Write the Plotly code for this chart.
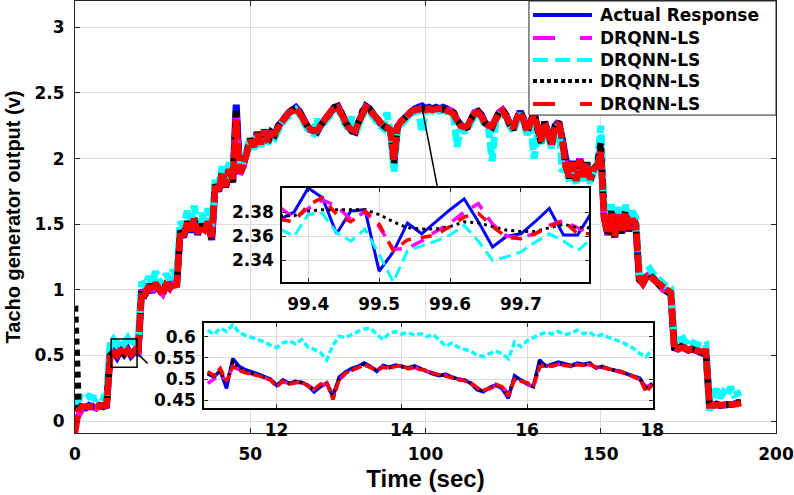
import plotly.graph_objects as go

# ---------------- main plot data (time in s) ----------------
t_main = list(range(0, 191))
actual = [
0.10,0.10,0.11,0.10,0.12,0.11,0.10,0.12,0.11,0.12,
0.50,0.53,0.49,0.54,0.51,0.55,0.50,0.53,0.52,
1.00,0.96,1.04,0.98,1.06,1.00,0.97,1.05,1.01,1.07,1.03,
1.45,1.40,1.52,1.44,1.55,1.42,1.50,1.45,1.53,1.38,
1.80,1.75,1.90,1.78,1.93,1.82,2.41,1.88,1.95,2.05,
2.15,2.08,2.20,2.10,2.22,2.12,2.20,2.18,
2.25,2.28,2.32,2.35,2.37,2.39,2.36,2.30,2.26,2.22,2.21,2.20,2.25,
2.29,2.33,2.37,2.39,2.40,2.35,2.28,2.24,2.21,2.20,
2.28,2.36,2.40,2.38,2.34,2.31,2.27,2.25,2.23,2.22,
1.98,2.24,2.28,2.31,2.34,2.36,2.38,2.39,2.40,2.38,
2.39,2.38,2.39,2.38,2.39,2.38,2.37,2.35,2.29,2.25,
2.23,2.24,2.30,2.35,2.36,2.33,2.27,2.25,2.24,2.30,
2.35,2.37,2.33,2.26,2.22,2.30,2.36,2.30,2.20,2.28,
2.35,2.22,2.12,2.28,2.20,2.10,2.25,2.28,2.15,
1.95,1.85,1.98,1.82,2.00,1.85,1.97,1.83,1.92,1.95,
2.08,1.55,1.42,1.60,1.40,1.58,1.43,1.60,1.45,1.55,1.50,
1.08,1.05,1.10,1.12,1.08,1.06,1.03,1.00,0.99,0.97,
0.56,0.55,0.57,0.56,0.54,0.55,0.54,0.53,0.52,0.53,
0.13,0.12,0.13,0.12,0.12,0.13,0.12,0.13,0.14,0.14]
magenta = [
0.00,0.05,0.09,0.10,0.11,0.11,0.10,0.11,0.11,0.13,
0.48,0.52,0.50,0.53,0.51,0.54,0.50,0.52,0.52,
0.99,0.97,1.03,0.99,1.05,1.00,0.97,1.04,1.01,1.06,1.03,
1.44,1.41,1.51,1.44,1.54,1.43,1.49,1.45,1.52,1.39,
1.79,1.76,1.89,1.79,1.92,1.82,2.35,1.88,1.94,2.05,
2.14,2.09,2.19,2.11,2.21,2.12,2.19,2.18,
2.25,2.28,2.32,2.35,2.37,2.38,2.35,2.30,2.26,2.22,2.21,2.21,2.25,
2.29,2.33,2.37,2.39,2.39,2.35,2.28,2.24,2.21,2.21,
2.28,2.36,2.39,2.38,2.34,2.31,2.27,2.25,2.23,2.22,
1.99,2.24,2.28,2.31,2.34,2.36,2.37,2.38,2.38,2.37,
2.38,2.38,2.38,2.38,2.38,2.38,2.37,2.35,2.29,2.25,
2.23,2.24,2.30,2.35,2.36,2.33,2.27,2.25,2.24,2.30,
2.35,2.37,2.33,2.26,2.22,2.30,2.36,2.30,2.20,2.28,
2.35,2.22,2.12,2.28,2.20,2.10,2.25,2.28,2.15,
1.95,1.85,1.98,1.82,2.00,1.85,1.97,1.83,1.92,1.95,
2.06,1.55,1.42,1.60,1.40,1.58,1.43,1.60,1.45,1.55,1.50,
1.08,1.05,1.10,1.12,1.08,1.06,1.03,1.00,0.99,0.97,
0.56,0.55,0.57,0.56,0.54,0.55,0.54,0.53,0.52,0.53,
0.13,0.12,0.13,0.12,0.12,0.13,0.12,0.13,0.14,0.14]
cyan = [
0.12,0.17,0.18,0.17,0.19,0.18,0.17,0.19,0.18,0.19,
0.58,0.62,0.58,0.62,0.59,0.63,0.58,0.61,0.60,
1.06,1.03,1.10,1.05,1.14,1.07,1.04,1.12,1.08,1.15,1.10,
1.52,1.48,1.60,1.52,1.64,1.50,1.58,1.53,1.62,1.46,
1.85,1.80,1.94,1.83,1.97,1.86,2.20,1.92,1.98,2.08,
2.15,2.07,2.19,2.09,2.21,2.11,2.19,2.16,
2.23,2.27,2.30,2.33,2.35,2.37,2.34,2.28,2.24,2.20,2.19,2.30,2.23,
2.27,2.31,2.35,2.37,2.38,2.33,2.26,2.22,2.32,2.18,
2.26,2.34,2.38,2.36,2.32,2.29,2.25,2.23,2.35,2.20,
1.90,2.22,2.26,2.29,2.32,2.34,2.36,2.37,2.20,2.36,
2.37,2.36,2.37,2.36,2.37,2.36,2.35,2.33,2.09,2.23,
2.21,2.22,2.28,2.33,2.34,2.31,2.25,2.23,1.98,2.28,
2.33,2.35,2.31,2.24,2.20,2.28,2.34,2.28,2.18,2.26,
2.00,2.20,2.10,2.26,2.18,2.08,2.23,2.26,1.90,
1.93,1.83,1.96,1.80,1.98,1.83,1.95,1.81,1.90,1.93,
2.25,1.60,1.48,1.65,1.45,1.63,1.48,1.65,1.50,1.60,1.55,
1.12,1.09,1.14,1.16,1.12,1.10,1.07,1.04,1.03,1.01,
0.61,0.62,0.66,0.60,0.63,0.60,0.59,0.58,0.57,0.58,
0.08,0.20,0.24,0.18,0.22,0.19,0.26,0.20,0.21,0.22]
black = [
0.88,0.12,0.11,0.11,0.12,0.11,0.11,0.12,0.12,0.12,
0.50,0.53,0.50,0.54,0.51,0.54,0.51,0.53,0.52,
1.00,0.97,1.04,0.99,1.05,1.00,0.97,1.05,1.02,1.06,1.03,
1.45,1.41,1.52,1.45,1.54,1.43,1.50,1.45,1.52,1.39,
1.80,1.76,1.90,1.79,1.93,1.82,2.38,1.88,1.95,2.05,
2.15,2.09,2.20,2.11,2.22,2.12,2.20,2.18,
2.25,2.28,2.32,2.35,2.37,2.38,2.36,2.30,2.26,2.22,2.21,2.21,2.25,
2.29,2.33,2.37,2.39,2.39,2.35,2.28,2.24,2.21,2.21,
2.28,2.36,2.39,2.38,2.34,2.31,2.27,2.25,2.23,2.22,
1.96,2.24,2.28,2.31,2.34,2.36,2.37,2.38,2.38,2.37,
2.38,2.38,2.38,2.38,2.38,2.38,2.37,2.35,2.29,2.25,
2.23,2.24,2.30,2.35,2.36,2.33,2.27,2.25,2.24,2.30,
2.35,2.37,2.33,2.26,2.22,2.30,2.36,2.30,2.20,2.28,
2.35,2.22,2.12,2.28,2.20,2.10,2.25,2.28,2.15,
1.95,1.85,1.98,1.82,2.00,1.85,1.97,1.83,1.92,1.95,
2.12,1.55,1.42,1.60,1.40,1.58,1.43,1.60,1.45,1.55,1.50,
1.08,1.05,1.10,1.12,1.08,1.06,1.03,1.00,0.99,0.97,
0.56,0.55,0.57,0.56,0.54,0.55,0.54,0.53,0.52,0.53,
0.13,0.12,0.13,0.12,0.12,0.13,0.12,0.13,0.14,0.14]
red = [
-0.09,0.08,0.11,0.11,0.11,0.12,0.11,0.11,0.12,0.12,
0.49,0.52,0.50,0.55,0.50,0.54,0.51,0.54,0.52,
0.99,0.97,1.03,0.99,1.05,1.01,0.96,1.04,1.02,1.06,1.02,
1.44,1.41,1.51,1.45,1.54,1.43,1.49,1.46,1.52,1.40,
1.79,1.76,1.89,1.79,1.92,1.83,2.30,1.89,1.94,2.04,
2.14,2.09,2.19,2.11,2.21,2.13,2.19,2.19,
2.24,2.28,2.31,2.35,2.36,2.38,2.35,2.30,2.26,2.23,2.21,2.21,2.25,
2.29,2.33,2.36,2.38,2.39,2.34,2.28,2.24,2.22,2.21,
2.28,2.35,2.39,2.37,2.34,2.30,2.27,2.25,2.24,2.22,
1.99,2.24,2.28,2.31,2.33,2.36,2.37,2.38,2.38,2.37,
2.38,2.37,2.38,2.38,2.38,2.37,2.36,2.34,2.29,2.25,
2.24,2.25,2.30,2.34,2.35,2.32,2.27,2.25,2.25,2.30,
2.34,2.36,2.32,2.26,2.23,2.30,2.35,2.29,2.21,2.28,
2.34,2.23,2.13,2.27,2.20,2.11,2.24,2.27,2.15,
1.94,1.86,1.97,1.83,1.99,1.86,1.96,1.84,1.92,1.94,
2.05,1.54,1.43,1.59,1.41,1.57,1.44,1.59,1.46,1.54,1.50,
1.09,1.05,1.10,1.11,1.08,1.06,1.03,1.01,0.99,0.98,
0.55,0.55,0.56,0.56,0.54,0.55,0.54,0.53,0.53,0.53,
0.12,0.12,0.12,0.12,0.13,0.13,0.12,0.13,0.13,0.14]

# ---------------- upper inset (99.36 - 99.80 s) ----------------
t_in1 = [99.36,99.38,99.40,99.42,99.44,99.46,99.48,99.50,99.52,99.54,99.56,99.58,
         99.60,99.62,99.64,99.66,99.68,99.70,99.72,99.74,99.76,99.78,99.80]
in1_actual = [2.374,2.380,2.400,2.392,2.362,2.381,2.382,2.331,2.347,2.371,2.362,2.372,
              2.382,2.391,2.372,2.351,2.360,2.362,2.372,2.383,2.361,2.361,2.380]
in1_magenta = [2.384,2.375,2.383,2.390,2.385,2.374,2.380,2.368,2.349,2.350,2.356,2.364,
               2.371,2.380,2.387,2.370,2.360,2.359,2.362,2.369,2.373,2.367,2.362]
in1_cyan = [2.366,2.360,2.378,2.379,2.363,2.356,2.366,2.345,2.322,2.348,2.352,2.356,
            2.361,2.369,2.356,2.340,2.343,2.347,2.355,2.362,2.356,2.348,2.358]
in1_black = [2.377,2.377,2.381,2.382,2.382,2.382,2.382,2.378,2.372,2.367,2.366,2.366,
             2.368,2.372,2.371,2.368,2.365,2.364,2.364,2.367,2.370,2.367,2.367]
in1_red = [2.374,2.372,2.386,2.392,2.378,2.372,2.381,2.370,2.348,2.357,2.359,2.361,
           2.368,2.376,2.379,2.368,2.359,2.358,2.362,2.368,2.373,2.362,2.362]

# ---------------- lower inset (10.9 - 18 s) ----------------
t_in2 = [10.9,11.0,11.1,11.2,11.3,11.4,11.5,11.6,11.7,11.8,
         11.9,12.0,12.1,12.2,12.3,12.4,12.5,12.6,12.7,12.8,
         12.9,13.0,13.1,13.2,13.3,13.4,13.5,13.6,13.7,13.8,
         13.9,14.0,14.1,14.2,14.3,14.4,14.5,14.6,14.7,14.8,
         14.9,15.0,15.1,15.2,15.3,15.4,15.5,15.6,15.7,15.8,
         15.9,16.0,16.1,16.2,16.3,16.4,16.5,16.6,16.7,16.8,
         16.9,17.0,17.1,17.2,17.3,17.4,17.5,17.6,17.7,17.8,
         17.9,18.0]
in2_actual = [0.512,0.505,0.520,0.478,0.548,0.530,0.522,0.518,0.512,0.506,
              0.500,0.485,0.498,0.490,0.495,0.492,0.485,0.470,0.482,0.490,
              0.458,0.505,0.517,0.525,0.530,0.538,0.530,0.518,0.532,0.528,
              0.533,0.530,0.527,0.531,0.524,0.518,0.512,0.508,0.512,0.505,
              0.500,0.498,0.490,0.475,0.470,0.480,0.486,0.478,0.455,0.508,
              0.498,0.488,0.482,0.545,0.530,0.535,0.540,0.536,0.532,0.538,
              0.535,0.538,0.526,0.530,0.524,0.521,0.518,0.512,0.508,0.502,
              0.478,0.490]
in2_magenta = [0.490,0.500,0.515,0.492,0.532,0.522,0.516,0.513,0.509,0.504,
               0.498,0.487,0.494,0.489,0.493,0.491,0.486,0.475,0.484,0.491,
               0.466,0.498,0.512,0.521,0.527,0.534,0.529,0.521,0.529,0.526,
               0.531,0.531,0.525,0.527,0.523,0.518,0.514,0.510,0.509,0.503,
               0.499,0.497,0.490,0.479,0.473,0.477,0.485,0.481,0.468,0.498,
               0.496,0.490,0.480,0.530,0.532,0.531,0.535,0.533,0.530,0.535,
               0.533,0.535,0.528,0.527,0.524,0.521,0.516,0.511,0.506,0.499,
               0.482,0.487]
in2_cyan = [0.615,0.605,0.620,0.612,0.628,0.610,0.603,0.598,0.592,0.588,
            0.580,0.574,0.585,0.590,0.583,0.593,0.575,0.570,0.562,0.545,
            0.580,0.600,0.598,0.606,0.612,0.618,0.620,0.605,0.593,0.608,
            0.612,0.606,0.610,0.603,0.607,0.600,0.605,0.592,0.577,0.585,
            0.575,0.570,0.566,0.556,0.553,0.560,0.566,0.560,0.548,0.587,
            0.576,0.590,0.598,0.605,0.610,0.606,0.612,0.604,0.608,0.615,
            0.607,0.610,0.600,0.605,0.598,0.593,0.588,0.580,0.572,0.560,
            0.553,0.569]
in2_black = [0.515,0.507,0.518,0.490,0.540,0.525,0.518,0.515,0.510,0.505,
             0.499,0.486,0.496,0.490,0.494,0.492,0.485,0.474,0.485,0.490,
             0.462,0.503,0.515,0.522,0.529,0.535,0.528,0.520,0.530,0.527,
             0.532,0.530,0.526,0.529,0.523,0.518,0.513,0.509,0.510,0.504,
             0.499,0.497,0.491,0.477,0.472,0.479,0.486,0.480,0.462,0.504,
             0.497,0.489,0.484,0.538,0.531,0.533,0.538,0.534,0.531,0.536,
             0.534,0.536,0.527,0.529,0.524,0.520,0.517,0.511,0.507,0.501,
             0.476,0.489]
in2_red = [0.518,0.508,0.525,0.495,0.530,0.520,0.515,0.512,0.508,0.503,
           0.498,0.482,0.495,0.488,0.492,0.494,0.483,0.476,0.488,0.492,
           0.452,0.500,0.514,0.520,0.528,0.533,0.527,0.520,0.528,0.525,
           0.530,0.533,0.524,0.528,0.522,0.520,0.514,0.510,0.508,0.503,
           0.498,0.496,0.492,0.480,0.474,0.478,0.488,0.482,0.460,0.500,
           0.495,0.490,0.486,0.528,0.533,0.530,0.536,0.532,0.530,0.534,
           0.532,0.534,0.528,0.528,0.525,0.520,0.517,0.512,0.506,0.500,
           0.470,0.486]

legend_labels = ["Actual Response", "DRQNN-LS", "DRQNN-LS", "DRQNN-LS", "DRQNN-LS"]
main_ticks_x = [0, 50, 100, 150, 200]
main_ticks_y = [0, 0.5, 1, 1.5, 2, 2.5, 3]
in1_ticks_x = [99.4, 99.5, 99.6, 99.7]
in1_ticks_y = [2.34, 2.36, 2.38]
in2_ticks_x = [12, 14, 16, 18]
in2_ticks_y = [0.45, 0.5, 0.55, 0.6]

# ---------------- styling ----------------
BLUE, MAG, CYAN, BLK, RED = "#0000ff", "#ff00ff", "#00ffff", "#000000", "#ff0000"
TICKFONT = dict(family="DejaVu Sans", size=17, color="black", weight="bold")
GRID = "#dddddd"

fig = go.Figure()

def add(x, y, color, width, dash, xa, ya):
    fig.add_trace(go.Scatter(x=x, y=y, mode="lines", xaxis=xa, yaxis=ya,
                             line=dict(color=color, width=width, dash=dash),
                             showlegend=False, hoverinfo="skip"))

# main
add(t_main, actual, BLUE, 7, "solid", "x", "y")
add(t_main, magenta, MAG, 6.5, "14px,6px", "x", "y")
add(t_main, cyan, CYAN, 7, "12px,4px", "x", "y")
add(t_main, black, BLK, 6.5, "6px,5px", "x", "y")
add(t_main, red, RED, 6.5, "18px,3px", "x", "y")
# inset 1
add(t_in1, in1_actual, BLUE, 3, "solid", "x2", "y2")
add(t_in1, in1_magenta, MAG, 3.5, "14px,10px", "x2", "y2")
add(t_in1, in1_cyan, CYAN, 3, "12px,6px", "x2", "y2")
add(t_in1, in1_black, BLK, 3, "3px,4px", "x2", "y2")
add(t_in1, in1_red, RED, 3.5, "11px,10px", "x2", "y2")
# inset 2
add(t_in2, in2_actual, BLUE, 3.5, "solid", "x3", "y3")
add(t_in2, in2_magenta, MAG, 3.5, "10px,6px", "x3", "y3")
add(t_in2, in2_cyan, CYAN, 3.5, "6px,3px", "x3", "y3")
add(t_in2, in2_black, BLK, 3.5, "3px,3px", "x3", "y3")
add(t_in2, in2_red, RED, 3.5, "10px,4px", "x3", "y3")

axis_common = dict(showgrid=True, gridcolor=GRID, gridwidth=1, zeroline=False,
                   showline=True, linecolor="#262626", mirror="allticks",
                   ticks="inside", ticklen=5, tickcolor="#262626", tickfont=TICKFONT)

fig.update_layout(
    width=794, height=495,
    margin=dict(l=75, r=18, t=1, b=62),
    paper_bgcolor="white", plot_bgcolor="white",
    xaxis=dict(axis_common, range=[0, 200], tickvals=main_ticks_x, linewidth=1,
               domain=[0, 1], ticklabelstandoff=6,
               title=dict(text="Time (sec)", standoff=6,
                          font=dict(family="Liberation Sans, Arial", size=24, color="black", weight="bold"))),
    yaxis=dict(axis_common, range=[-0.09, 3.2], tickvals=main_ticks_y, linewidth=1,
               domain=[0, 1], ticklabelstandoff=6,
               title=dict(text="Tacho generator output (v)", standoff=8,
                          font=dict(family="Liberation Sans, Arial", size=20, color="black", weight="bold"))),
    xaxis2=dict(axis_common, anchor="y2", range=[99.363, 99.796], tickvals=in1_ticks_x,
                linewidth=1.5, linecolor="black", ticklen=4, domain=[0.2953, 0.7332],
                ticklabelstandoff=6),
    yaxis2=dict(axis_common, anchor="x2", range=[2.322, 2.40], tickvals=in1_ticks_y,
                tickformat=".2f", linewidth=1.5, linecolor="black", ticklen=4,
                domain=[0.3495, 0.5671], ticklabelstandoff=3),
    xaxis3=dict(axis_common, anchor="y3", range=[10.84, 18.01], tickvals=in2_ticks_x,
                linewidth=1.5, linecolor="black", ticklen=4, domain=[0.1840, 0.8245],
                ticklabelstandoff=6),
    yaxis3=dict(axis_common, anchor="x3", range=[0.432, 0.632], tickvals=in2_ticks_y,
                ticktext=["0.45", "0.5", "0.55", "0.6"], linewidth=1.5, linecolor="black",
                ticklen=4, domain=[0.0579, 0.2546], ticklabelstandoff=3),
)

# zoom rectangle and connector lines (main data coordinates)
fig.add_shape(type="rect", xref="x", yref="y", x0=10.3, x1=17.7, y0=0.41, y1=0.626,
              line=dict(color="black", width=1.5))
fig.add_shape(type="line", xref="x", yref="y", x0=17.8, y0=0.516, x1=20.7, y1=0.44,
              line=dict(color="black", width=1.5))
fig.add_shape(type="line", xref="x", yref="y", x0=99.14, y0=2.37, x1=103.43, y1=1.776,
              line=dict(color="black", width=1.5))

# legend (drawn manually to match the long line samples)
fig.add_shape(type="rect", xref="paper", yref="paper", x0=0.6476, x1=1.0, y0=0.736, y1=1.0,
              line=dict(color="#262626", width=1), fillcolor="white", layer="above")
leg_y = [0.9676, 0.9144, 0.8634, 0.8148, 0.7616]
leg_style = [(BLUE, "solid"), (MAG, "22px,25px"), (CYAN, "15px,7px"), (BLK, "4px,3px"), (RED, "22px,25px")]
for yy, (col, dsh), lab in zip(leg_y, leg_style, legend_labels):
    fig.add_shape(type="line", xref="paper", yref="paper", x0=0.6534, x1=0.7375, y0=yy, y1=yy,
                  line=dict(color=col, width=4, dash=dsh), layer="above")
    fig.add_annotation(xref="paper", yref="paper", x=0.7461, y=yy, text=lab, showarrow=False,
                       xanchor="left", yanchor="middle",
                       font=dict(family="DejaVu Sans", size=17, color="black", weight="bold"))

fig.write_html("out.html")
